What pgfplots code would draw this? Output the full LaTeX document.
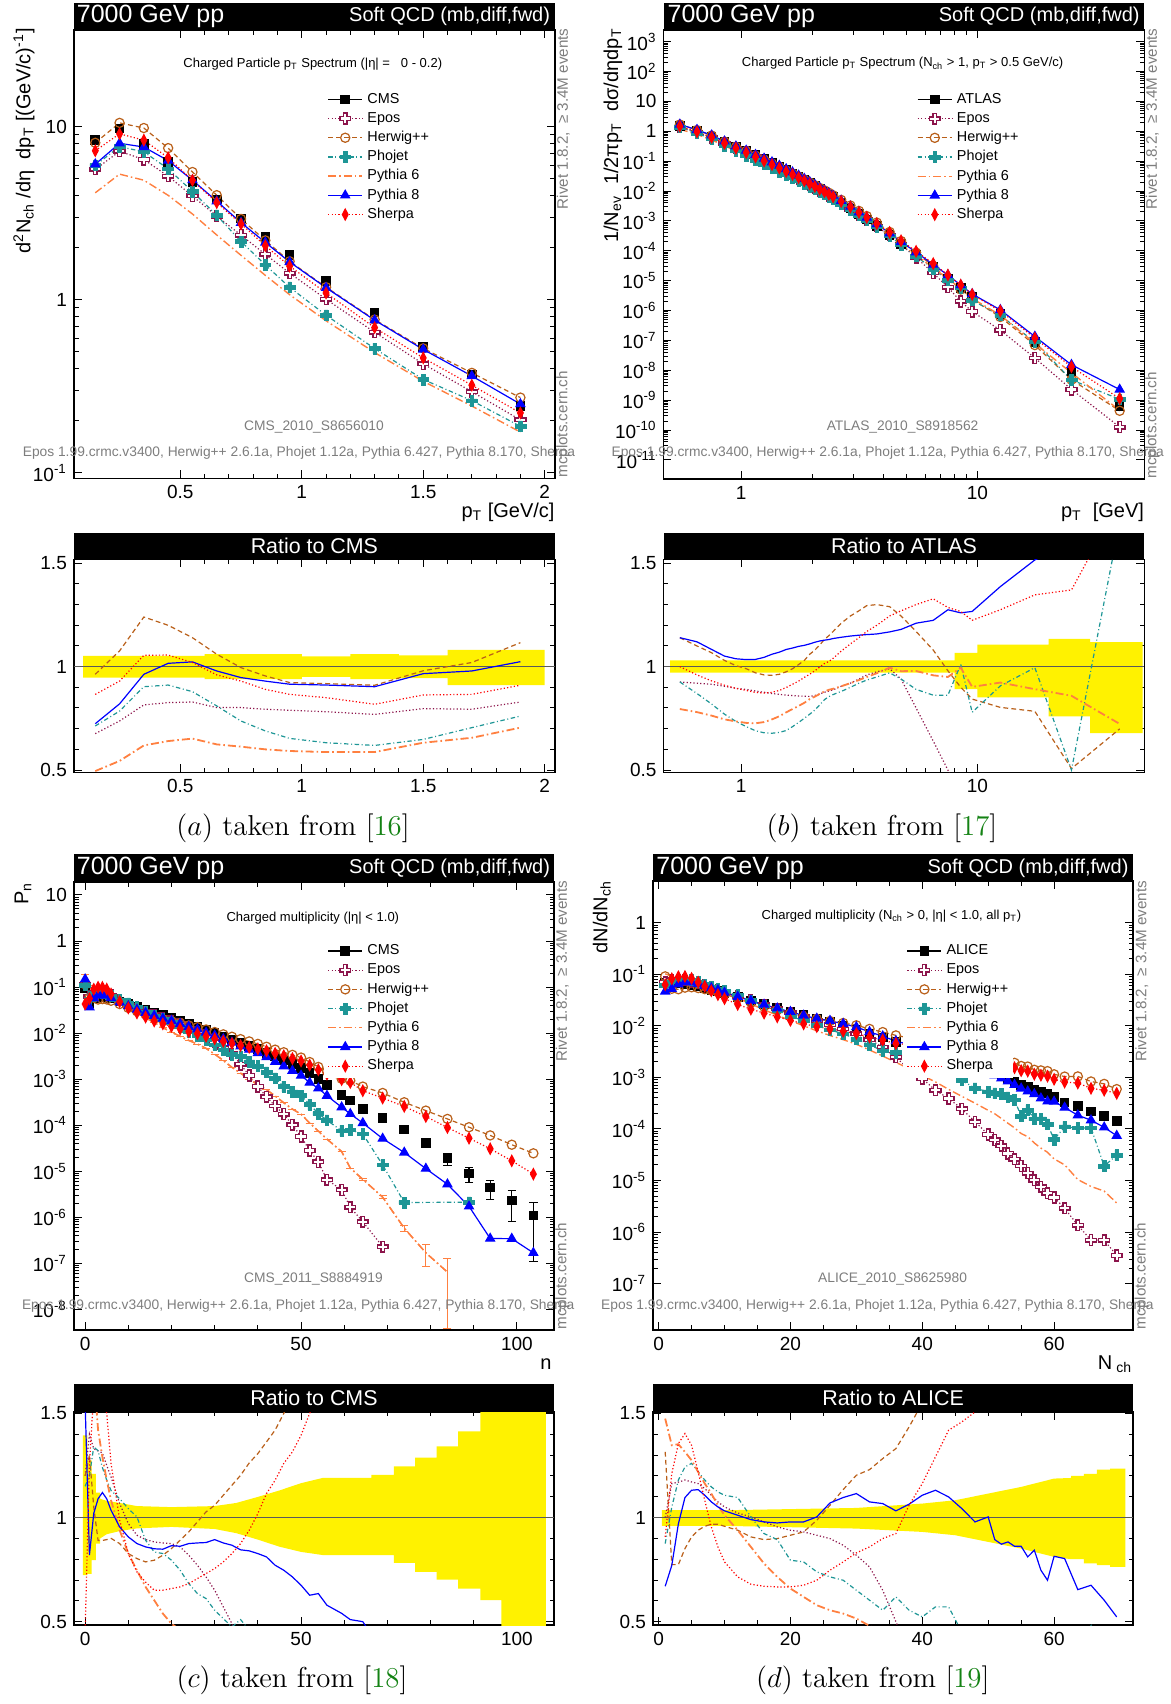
\documentclass[border=0pt]{standalone}
\usepackage{fontspec}
\usepackage{pgfplots}
\usepackage{pgfplotstable}
\pgfplotsset{compat=1.18}
\newfontfamily\arial{Liberation Sans}

\definecolor{cepo}{RGB}{140,20,75}
\definecolor{chw}{RGB}{185,95,25}
\definecolor{cpho}{RGB}{30,150,150}
\definecolor{cpy6}{RGB}{255,128,64}
\definecolor{cpy8}{RGB}{0,0,255}
\definecolor{cshp}{RGB}{255,0,0}
\definecolor{gtxt}{RGB}{125,125,125}
\definecolor{cref}{RGB}{90,90,90}
\definecolor{refgreen}{RGB}{20,130,20}

\newcommand\fhead{\arial\fontsize{12.5}{14}\selectfont}
\newcommand\fheadr{\arial\fontsize{10}{12}\selectfont}
\newcommand\fratio{\arial\fontsize{10.7}{12}\selectfont}
\newcommand\ftick{\arial\fontsize{9.5}{11}\selectfont}
\newcommand\flab{\arial\fontsize{10}{12}\selectfont}
\newcommand\fleg{\arial\fontsize{7.2}{8.5}\selectfont}
\newcommand\fsub{\arial\fontsize{6.5}{8}\selectfont}
\newcommand\fgray{\arial\fontsize{6.9}{8}\selectfont}
\newcommand\fgrayl{\arial\fontsize{6.9}{8}\selectfont}
\newcommand\friv{\arial\fontsize{7.6}{9}\selectfont}
\newcommand\fcap{\fontsize{14.4}{17}\selectfont}

% hollow / filled thick cross used by Epos and Phojet
\pgfdeclareplotmark{pcross}{%
  \pgfpathmoveto{\pgfqpoint{-0.33\pgfplotmarksize}{\pgfplotmarksize}}%
  \pgfpathlineto{\pgfqpoint{0.33\pgfplotmarksize}{\pgfplotmarksize}}%
  \pgfpathlineto{\pgfqpoint{0.33\pgfplotmarksize}{0.33\pgfplotmarksize}}%
  \pgfpathlineto{\pgfqpoint{\pgfplotmarksize}{0.33\pgfplotmarksize}}%
  \pgfpathlineto{\pgfqpoint{\pgfplotmarksize}{-0.33\pgfplotmarksize}}%
  \pgfpathlineto{\pgfqpoint{0.33\pgfplotmarksize}{-0.33\pgfplotmarksize}}%
  \pgfpathlineto{\pgfqpoint{0.33\pgfplotmarksize}{-\pgfplotmarksize}}%
  \pgfpathlineto{\pgfqpoint{-0.33\pgfplotmarksize}{-\pgfplotmarksize}}%
  \pgfpathlineto{\pgfqpoint{-0.33\pgfplotmarksize}{-0.33\pgfplotmarksize}}%
  \pgfpathlineto{\pgfqpoint{-\pgfplotmarksize}{-0.33\pgfplotmarksize}}%
  \pgfpathlineto{\pgfqpoint{-\pgfplotmarksize}{0.33\pgfplotmarksize}}%
  \pgfpathlineto{\pgfqpoint{-0.33\pgfplotmarksize}{0.33\pgfplotmarksize}}%
  \pgfpathclose
  \pgfusepathqfillstroke
}

\pgfplotsset{
  rootax/.style={
    scale only axis, anchor=north west,
    axis line style={line width=0.8pt},
    tick style={black, line width=0.5pt},
    major tick length=4pt, minor tick length=2.3pt,
    tick align=inside, tick pos=both,
    xticklabel pos=lower, yticklabel pos=left,
    ticklabel style={font=\ftick},
    /pgf/number format/assume math mode=true,
  },
  legax/.style={
    legend cell align=left,
    legend style={draw=none, fill=white, font=\fleg, anchor=north west,
      inner xsep=2pt, inner ysep=2pt, row sep=1.6pt, column sep=1.6pt,
      nodes={inner sep=0.6pt, text height=5.3pt, text depth=1.5pt}},
  },
  ratax/.style={rootax, ytick={0.5,1,1.5}, minor y tick num=4},
  sdat/.style={black, solid, line width=0.6pt, mark=square*, mark size=2.1pt},
  sepo/.style={cepo, line width=0.6pt, dash pattern=on 0.6pt off 1.1pt, mark=pcross, mark size=2.7pt, mark options={solid, fill=white, line width=0.7pt}},
  shw/.style={chw, line width=0.6pt, dash pattern=on 2.4pt off 1.6pt, mark=o, mark size=2.3pt, mark options={solid, line width=0.6pt}},
  spho/.style={cpho, line width=0.6pt, dash pattern=on 2.2pt off 1.3pt on 0.5pt off 1.3pt, mark=pcross, mark size=2.7pt, mark options={solid, fill=cpho, line width=0.3pt}},
  spy6/.style={cpy6, line width=0.7pt, dash pattern=on 4pt off 1.5pt on 0.8pt off 1.5pt, mark=none},
  spy8/.style={cpy8, line width=0.6pt, solid, mark=triangle*, mark size=2.5pt},
  sshp/.style={cshp, line width=0.6pt, dash pattern=on 0.6pt off 1.1pt, mark=diamond*, mark size=2.7pt, mark options={solid, xscale=0.7}},
}

% (a) CMS pT spectrum: data and model/data ratios
\pgfplotstableread{
x dat epo hw pho py6 py8 shp
0.15 8.4 0.676 0.963 0.713 0.495 0.724 0.866
0.25 9.8 0.737 1.076 0.785 0.544 0.82 0.93
0.35 7.94 0.815 1.24 0.903 0.619 0.963 1.055
0.45 6.28 0.826 1.2 0.911 0.64 1.016 1.056
0.55 4.81 0.829 1.14 0.879 0.652 1.023 1.02
0.65 3.8 0.802 1.06 0.81 0.624 0.979 0.96
0.75 2.95 0.802 0.995 0.737 0.613 0.947 0.93
0.85 2.31 0.794 0.955 0.689 0.6 0.93 0.89
0.95 1.81 0.789 0.923 0.653 0.592 0.915 0.866
1.1 1.29 0.782 0.918 0.632 0.587 0.911 0.85
1.3 0.845 0.769 0.91 0.619 0.587 0.903 0.818
1.5 0.535 0.797 0.98 0.648 0.632 0.966 0.863
1.7 0.371 0.794 1.02 0.705 0.656 0.979 0.866
1.9 0.244 0.829 1.116 0.761 0.705 1.024 0.91
}\tabA

% (b) ATLAS pT spectrum
\pgfplotstableread{
x dat epo hw pho py6 py8 shp
0.55 1.479 0.926 1.14 0.926 0.795 1.14 1.0
0.65 1.0 0.92 1.10 0.87 0.78 1.12 0.96
0.75 0.676 0.915 1.067 0.819 0.763 1.083 0.931
0.85 0.437 0.905 1.03 0.77 0.745 1.051 0.91
0.95 0.302 0.895 1.005 0.735 0.735 1.038 0.895
1.05 0.219 0.89 0.99 0.71 0.728 1.034 0.885
1.15 0.158 0.882 0.97 0.69 0.726 1.035 0.875
1.25 0.117 0.876 0.96 0.68 0.732 1.045 0.872
1.35 0.0871 0.87 0.958 0.678 0.745 1.06 0.876
1.45 0.0661 0.866 0.963 0.682 0.76 1.07 0.885
1.55 0.0501 0.862 0.975 0.691 0.779 1.083 0.899
1.65 0.0389 0.86 0.99 0.71 0.795 1.09 0.915
1.75 0.0302 0.858 1.01 0.73 0.81 1.098 0.93
1.85 0.0234 0.857 1.03 0.75 0.825 1.103 0.948
1.95 0.0182 0.856 1.06 0.77 0.843 1.11 0.963
2.05 0.0145 0.86 1.08 0.79 0.855 1.118 0.98
2.15 0.0115 0.868 1.105 0.815 0.868 1.124 0.998
2.25 0.00933 0.876 1.131 0.84 0.88 1.128 1.015
2.35 0.00759 0.882 1.15 0.855 0.888 1.131 1.025
2.45 0.00617 0.888 1.17 0.865 0.893 1.136 1.04
2.65 0.00417 0.905 1.21 0.88 0.905 1.142 1.075
2.9 0.00263 0.92 1.245 0.9 0.92 1.148 1.11
3.15 0.0017 0.94 1.27 0.92 0.935 1.152 1.14
3.4 0.00112 0.96 1.295 0.935 0.95 1.155 1.17
3.75 6.76e-4 0.975 1.30 0.95 0.968 1.158 1.20
4.25 3.31e-4 0.99 1.29 0.97 0.995 1.168 1.245
4.75 1.70e-4 0.94 1.245 0.94 0.978 1.18 1.27
5.5 7.41e-5 0.80 1.17 0.89 0.979 1.21 1.30
6.5 2.82e-5 0.64 1.08 0.862 0.958 1.224 1.328
7.5 1.20e-5 0.5 0.98 0.862 0.95 1.275 1.286
8.5 5.62e-6 0.36 0.9 1.011 0.995 1.26 1.267
9.5 2.82e-6 0.33 0.843 0.779 0.902 1.267 1.224
12.5 7.59e-7 0.29 0.803 0.907 0.923 1.387 1.275
17.5 8.91e-8 0.29 0.784 0.995 0.891 1.516 1.347
25 9.55e-9 0.24 0.507 0.5 0.859 1.6 1.371
40 6.31e-10 0.2 0.699 1.7 0.723 3.6 1.8
}\tabB

% (c) CMS multiplicity |eta|<1
\pgfplotstableread{
x dat err epo hw pho py6 e6 py8 shp
0 0.0955 0 1.2 1.2 1.15 2.0 0 1.55 0.45
1 0.0447 0 1.4 1.3 1.2 2.4 0 0.82 1.26
2 0.0562 0 1.33 1.05 1.34 1.7 0 1.02 1.6
3 0.0603 0 1.32 0.89 1.32 1.42 0 1.09 1.65
4 0.0617 0 1.31 0.89 1.24 1.29 0 1.12 1.6
5 0.0603 0 1.25 0.894 1.18 1.18 0 1.09 1.5
6 0.0562 0 1.195 0.9 1.13 1.083 0 1.035 1.26
8 0.049 0 1.067 0.875 1.09 0.939 0 0.955 0.987
10 0.0427 0 0.971 0.827 1.043 0.827 0 0.907 0.827
12 0.0372 0 0.915 0.803 1.003 0.747 0 0.875 0.739
14 0.0324 0 0.894 0.787 0.891 0.667 0 0.859 0.69
16 0.0282 0 0.883 0.795 0.835 0.603 0 0.85 0.651
18 0.0245 0 0.878 0.819 0.827 0.539 0 0.848 0.651
20 0.0214 0 0.875 0.851 0.795 0.49 0 0.865 0.659
22 0.0186 0 0.859 0.891 0.747 0.46 0 0.862 0.667
24 0.0158 0 0.819 0.931 0.683 0.44 0 0.875 0.683
26 0.0138 0 0.771 0.979 0.635 0.42 0 0.878 0.707
28 0.0117 0 0.715 1.027 0.611 0.40 0 0.88 0.731
30 0.0100 0 0.651 1.059 0.555 0.35 0 0.894 0.755
32 0.00851 0 0.571 1.107 0.515 0.30 0 0.878 0.787
34 0.00724 0 0.49 1.155 0.475 0.25 0 0.867 0.827
36 0.00617 0 0.34 1.203 0.51 0.22 0 0.845 0.875
38 0.00525 0 0.23 1.262 0.46 0.19 0 0.84 0.939
40 0.00447 0 0.155 1.307 0.43 0.17 0 0.827 1.019
42 0.00372 0 0.112 1.363 0.38 0.16 0 0.811 1.115
44 0.00309 0 0.085 1.42 0.34 0.14 0 0.771 1.179
46 0.00257 0 0.068 1.5 0.27 0.12 0 0.747 1.26
48 0.00214 0 0.048 1.58 0.25 0.105 0 0.715 1.315
50 0.00178 0 0.032 1.66 0.25 0.098 0 0.675 1.395
52 0.00135 0 0.021 1.75 0.21 0.083 0 0.627 1.5
54 0.00100 0 0.016 1.85 0.18 0.075 0 0.635 1.6
56 0.000759 0 0.0087 1.95 0.17 0.066 0 0.579 1.7
59.4 4.57e-4 0.05 0.0087 2.24 0.166 0.059 0 0.54 2.14
61.4 3.47e-4 0.06 0.0048 2.69 0.23 0.034 0 0.51 2.45
64.3 2.24e-4 0.08 0.0036 3.09 0.29 0.03 0.05 0.50 2.51
68.9 1.45e-4 0.10 0.0016 3.47 0.095 0.019 0.08 0.355 2.69
73.9 8.13e-5 0.13 nan 3.89 0.026 0.0072 0.15 0.316 3.16
78.9 4.17e-5 0.18 nan 5.0 nan 0.0041 0.5 0.275 3.72
83.9 1.91e-5 0.28 nan 7.2 nan 0.0034 0.94 0.275 4.68
88.9 8.91e-6 0.35 nan 10.2 0.24 nan 0 0.195 5.89
93.8 4.47e-6 0.45 nan 13.5 nan nan 0 0.078 6.92
98.8 2.34e-6 0.65 nan 16.2 nan nan 0 0.148 7.24
103.8 1.10e-6 0.9 nan 22.4 nan nan 0 0.155 7.94
}\tabC

% (d) ALICE multiplicity Nch>0
\pgfplotstableread{
x dat epo hw pho py6 py8 shp
1 0.0692 1.0 1.315 0.875 1.475 0.67 0.907
2 0.0676 1.163 0.774 1.05 1.347 0.77 1.211
3 0.0661 1.17 0.774 1.18 1.352 0.97 1.355
4 0.0646 1.18 0.851 1.243 1.315 1.096 1.403
5 0.0617 1.171 0.907 1.26 1.275 1.131 1.347
6 0.0575 1.163 0.939 1.22 1.219 1.134 1.219
7 0.0537 1.139 0.958 1.18 1.163 1.107 1.083
8 0.0501 1.107 0.968 1.147 1.115 1.075 0.955
9 0.0468 1.075 0.968 1.123 1.059 1.051 0.859
10 0.0427 1.051 0.958 1.107 1.011 1.032 0.787
12 0.0363 1.022 0.939 1.096 0.939 1.011 0.715
14 0.0309 1.003 0.907 1.003 0.859 0.99 0.68
16 0.0263 0.979 0.894 0.923 0.779 0.979 0.67
18 0.0224 0.955 0.899 0.894 0.715 0.974 0.667
20 0.0191 0.939 0.915 0.795 0.659 0.979 0.667
22 0.0162 0.931 0.931 0.787 0.619 0.979 0.675
24 0.0138 0.915 0.987 0.739 0.579 1.003 0.699
26 0.0117 0.899 1.059 0.715 0.555 1.07 0.747
28 0.0100 0.867 1.134 0.699 0.539 1.096 0.787
30 0.00851 0.819 1.203 0.651 0.515 1.115 0.83
32 0.00708 0.763 1.23 0.603 0.48 1.075 0.859
34 0.00589 0.651 1.283 0.555 0.44 1.067 0.899
36 0.00490 0.5 1.331 0.619 0.40 1.032 0.923
38 0.00407 0.35 1.435 0.555 0.36 1.064 1.059
40 0.00339 0.28 1.55 0.523 0.32 1.107 1.163
42 0.00282 0.2 1.65 0.571 0.29 1.131 1.291
44 0.00234 0.166 1.75 0.571 0.25 1.099 1.419
46 0.00195 0.126 1.85 0.45 0.22 1.043 1.459
48 0.00162 0.085 1.95 0.38 0.195 0.979 1.507
50 0.00135 0.058 2.05 0.39 0.17 1.003 1.6
51 0.00123 0.05 2.1 0.40 0.16 0.894 1.65
52 0.00110 0.043 2.15 0.43 0.145 0.872 1.75
53 0.000955 0.035 2.2 0.43 0.135 0.883 1.8
54 0.000832 0.031 2.3 0.44 0.126 0.862 1.85
55 0.000708 0.027 2.35 0.25 0.115 0.862 1.9
56 0.000661 0.021 2.45 0.35 0.107 0.811 2.0
57 0.000562 0.018 2.5 0.28 0.095 0.843 2.05
58 0.000525 0.0145 2.6 0.30 0.081 0.747 2.1
59 0.000490 0.0115 2.7 0.25 0.072 0.699 2.15
60 0.000417 0.0112 2.75 0.15 0.063 0.814 2.2
61.6 0.000324 0.0089 3.2 0.34 0.062 0.803 2.5
63.6 0.000282 0.0048 3.7 0.37 0.037 0.654 2.75
65.6 0.000219 0.0032 3.8 0.48 0.035 0.675 2.8
67.6 0.000178 0.0039 4.2 0.107 0.035 0.603 3.16
69.5 0.000141 0.0025 4.2 0.22 0.026 0.523 3.47
}\tabD

\newcommand\legset[1]{%
  \addlegendimage{sdat}\addlegendentry{#1}
  \addlegendimage{sepo}\addlegendentry{Epos}
  \addlegendimage{shw}\addlegendentry{Herwig++}
  \addlegendimage{spho}\addlegendentry{Phojet}
  \addlegendimage{spy6}\addlegendentry{Pythia 6}
  \addlegendimage{spy8}\addlegendentry{Pythia 8}
  \addlegendimage{sshp}\addlegendentry{Sherpa}}

\newcommand\mainmodels[1]{%
  \addplot[sepo, forget plot] table[x=x, y expr=\thisrow{dat}*\thisrow{epo}] {#1};
  \addplot[shw, forget plot] table[x=x, y expr=\thisrow{dat}*\thisrow{hw}] {#1};
  \addplot[spho, forget plot] table[x=x, y expr=\thisrow{dat}*\thisrow{pho}] {#1};
  \addplot[spy6, forget plot] table[x=x, y expr=\thisrow{dat}*\thisrow{py6}] {#1};
  \addplot[spy8, forget plot] table[x=x, y expr=\thisrow{dat}*\thisrow{py8}] {#1};
  \addplot[sshp, forget plot] table[x=x, y expr=\thisrow{dat}*\thisrow{shp}] {#1};}

\newcommand\ratiomodels[1]{%
  \addplot[sepo, no marks] table[x=x, y=epo] {#1};
  \addplot[shw, no marks] table[x=x, y=hw] {#1};
  \addplot[spho, no marks] table[x=x, y=pho] {#1};
  \addplot[spy6, no marks, line width=0.9pt] table[x=x, y=py6] {#1};
  \addplot[spy8, no marks] table[x=x, y=py8] {#1};
  \addplot[sshp, no marks] table[x=x, y=shp] {#1};}

\newcommand\graytxt{Epos 1.99.crmc.v3400, Herwig++ 2.6.1a, Phojet 1.12a, Pythia 6.427, Pythia 8.170, Sherpa}
\newcommand\rivet{Rivet 1.8.2, \ ≥ 3.4M events}

\begin{document}
\begin{tikzpicture}
\path[use as bounding box] (0pt,0pt) rectangle (585.5pt,-852pt);

% ---------------- (a) main
\begin{axis}[rootax, legax, ymode=log, at={(36.95pt,-15pt)}, width=240.5pt, height=224.15pt,
  xmin=0.062, xmax=2.042, ymin=0.093, ymax=36.3,
  xtick={0.5,1,1.5,2}, minor x tick num=4,
  ytick={0.1,1,10}, yticklabels={10\textsuperscript{-1},1,10},
  legend style={at={(axis description cs:0.518,0.873)}}]
\legset{CMS}
\addplot[sdat, only marks, forget plot] table[x=x, y=dat] {\tabA};
\mainmodels{\tabA}
\end{axis}

% ---------------- (a) ratio
\begin{axis}[ratax, at={(36.95pt,-279.65pt)}, width=240.5pt, height=106.5pt,
  xmin=0.062, xmax=2.042, ymin=0.489, ymax=1.519,
  xtick={0.5,1,1.5,2}, minor x tick num=4]
\addplot[fill=yellow, draw=none] coordinates {(0.1,1.052)(0.6,1.052)(0.6,1.06)(1.0,1.06)(1.0,1.05)(1.2,1.05)(1.2,1.06)(1.4,1.06)(1.4,1.055)(1.6,1.055)(1.6,1.081)(2.0,1.081)(2.0,0.911)(1.6,0.911)(1.6,0.945)(1.4,0.945)(1.4,0.94)(1.2,0.94)(1.2,0.95)(1.0,0.95)(1.0,0.94)(0.6,0.94)(0.6,0.947)(0.1,0.947)} -- cycle;
\addplot[cref, line width=0.7pt] coordinates {(0.062,1) (2.042,1)};
\ratiomodels{\tabA}
\end{axis}

% ---------------- (b) main
\begin{axis}[rootax, legax, xmode=log, ymode=log, at={(331.75pt,-15pt)}, width=240.45pt, height=224.5pt,
  xmin=0.469, xmax=50.9, ymin=2.3e-12, ymax=2450,
  xtick={1,10}, xticklabels={1,10},
  ytick={1e-11,1e-10,1e-9,1e-8,1e-7,1e-6,1e-5,1e-4,1e-3,1e-2,1e-1,1,10,100,1000},
  yticklabels={10\textsuperscript{-11},10\textsuperscript{-10},10\textsuperscript{-9},10\textsuperscript{-8},10\textsuperscript{-7},10\textsuperscript{-6},10\textsuperscript{-5},10\textsuperscript{-4},10\textsuperscript{-3},10\textsuperscript{-2},10\textsuperscript{-1},1,10,10\textsuperscript{2},10\textsuperscript{3}},
  legend style={at={(axis description cs:0.518,0.873)}}]
\legset{ATLAS}
\addplot[sdat, only marks, forget plot] table[x=x, y=dat] {\tabB};
\mainmodels{\tabB}
\end{axis}

% ---------------- (b) ratio
\begin{axis}[ratax, xmode=log, at={(331.75pt,-279.65pt)}, width=240.45pt, height=106.5pt,
  xmin=0.469, xmax=50.9, ymin=0.489, ymax=1.519,
  xtick={1,10}, xticklabels={1,10}]
\addplot[fill=yellow, draw=none] coordinates {(0.5,1.03)(8,1.03)(8,1.067)(10,1.067)(10,1.107)(20,1.107)(20,1.134)(30,1.134)(30,1.118)(50,1.118)(50,0.678)(30,0.678)(30,0.76)(20,0.76)(20,0.851)(10,0.851)(10,0.891)(8,0.891)(8,0.971)(0.5,0.971)} -- cycle;
\addplot[cref, line width=0.7pt] coordinates {(0.469,1) (50.9,1)};
\ratiomodels{\tabB}
\end{axis}

% ---------------- (c) main
\begin{axis}[rootax, legax, ymode=log, at={(36.95pt,-441.05pt)}, width=240.1pt, height=223.95pt,
  xmin=-2.6, xmax=108.6, ymin=3.6e-9, ymax=19,
  xtick={0,50,100}, minor x tick num=4,
  ytick={1e-8,1e-7,1e-6,1e-5,1e-4,1e-3,1e-2,1e-1,1,10},
  yticklabels={10\textsuperscript{-8},10\textsuperscript{-7},10\textsuperscript{-6},10\textsuperscript{-5},10\textsuperscript{-4},10\textsuperscript{-3},10\textsuperscript{-2},10\textsuperscript{-1},1,10},
  legend style={at={(axis description cs:0.519,0.874)}}]
\legset{CMS}
\addplot[sdat, only marks, forget plot, error bars/.cd, y dir=both, y explicit relative,
  error bar style={black, line width=0.6pt}] table[x=x, y=dat, y error=err] {\tabC};
\mainmodels{\tabC}
\addplot[spy6, forget plot, error bars/.cd, y dir=both, y explicit relative,
  error bar style={cpy6, solid, line width=0.6pt}] table[x=x, y expr=\thisrow{dat}*\thisrow{py6}, y error=e6] {\tabC};
\end{axis}

% ---------------- (c) ratio
\begin{axis}[ratax, at={(36.95pt,-705.85pt)}, width=240.1pt, height=106.65pt,
  xmin=-2.6, xmax=108.6, ymin=0.484, ymax=1.508,
  xtick={0,50,100}, minor x tick num=4]
\addplot[fill=yellow, draw=none] coordinates {(-0.5,1.395)(0.5,1.395)(0.5,1.275)(1.5,1.275)(1.5,1.21)(2.5,1.21)(2.5,1.12)(3.5,1.12)(3.5,1.09)(5,1.08)(8,1.07)(12,1.055)(20,1.05)(30,1.055)(35,1.07)(40,1.099)(45,1.13)(50,1.165)(55,1.19)(66.3,1.19)(66.3,1.205)(71.5,1.205)(71.5,1.246)(76.4,1.246)(76.4,1.288)(81.4,1.288)(81.4,1.342)(86.4,1.342)(86.4,1.414)(91.5,1.414)(91.5,1.6)(106.7,1.6)(106.7,0.3)(96.4,0.3)(96.4,0.603)(91.5,0.603)(91.5,0.659)(86.4,0.659)(86.4,0.702)(81.4,0.702)(81.4,0.739)(76.4,0.739)(76.4,0.782)(71.5,0.782)(71.5,0.82)(55,0.82)(50,0.835)(45,0.86)(40,0.894)(35,0.925)(30,0.945)(20,0.955)(12,0.948)(8,0.935)(5,0.92)(3.5,0.9)(3.5,0.875)(2.5,0.875)(2.5,0.795)(1.5,0.795)(1.5,0.73)(0.5,0.73)(0.5,0.723)(-0.5,0.723)} -- cycle;
\addplot[cref, line width=0.7pt] coordinates {(-2.6,1) (108.6,1)};
\ratiomodels{\tabC}
\end{axis}

% ---------------- (d) main
\begin{axis}[rootax, legax, ymode=log, at={(326.5pt,-440.55pt)}, width=240.1pt, height=224.45pt,
  xmin=-0.85, xmax=72, ymin=1.26e-8, ymax=6.4,
  xtick={0,20,40,60}, minor x tick num=3,
  ytick={1e-7,1e-6,1e-5,1e-4,1e-3,1e-2,1e-1,1},
  yticklabels={10\textsuperscript{-7},10\textsuperscript{-6},10\textsuperscript{-5},10\textsuperscript{-4},10\textsuperscript{-3},10\textsuperscript{-2},10\textsuperscript{-1},1},
  legend style={at={(axis description cs:0.519,0.872)}}]
\legset{ALICE}
\addplot[sdat, only marks, forget plot] table[x=x, y=dat] {\tabD};
\mainmodels{\tabD}
\end{axis}

% ---------------- (d) ratio
\begin{axis}[ratax, at={(326.5pt,-705.85pt)}, width=240.1pt, height=106.65pt,
  xmin=-0.85, xmax=72, ymin=0.484, ymax=1.508,
  xtick={0,20,40,60}, minor x tick num=3]
\addplot[fill=yellow, draw=none] coordinates {(0.5,1.035)(10,1.035)(30,1.046)(40,1.067)(45,1.083)(50,1.115)(55,1.147)(60,1.187)(62.6,1.19)(62.6,1.2)(64.5,1.2)(64.5,1.21)(66.5,1.21)(66.5,1.23)(68.5,1.23)(68.5,1.235)(70.8,1.235)(70.8,0.763)(68.5,0.763)(68.5,0.771)(66.5,0.771)(66.5,0.78)(64.5,0.78)(64.5,0.8)(62.6,0.8)(60,0.811)(55,0.851)(50,0.883)(45,0.915)(40,0.931)(30,0.947)(10,0.96)(0.5,0.96)} -- cycle;
\addplot[cref, line width=0.7pt] coordinates {(-0.85,1) (72,1)};
\ratiomodels{\tabD}
\end{axis}

% ---------------- header bars
\foreach \xa/\xb/\ya/\yb in {36.95/277.45/-1.35/-15, 331.75/572.2/-1.35/-15,
    36.95/277.45/-266.35/-279.65, 331.75/572.2/-266.35/-279.65,
    36.95/277.05/-427/-441.05, 326.5/566.6/-427/-440.55,
    36.95/277.05/-692/-705.85, 326.5/566.6/-692/-705.85}
  \fill[black] (\xa pt,\ya pt) rectangle (\xb pt,\yb pt);

\node[white, anchor=west, font=\fhead, inner sep=0pt] at (38.25pt,-8.2pt) {7000 GeV pp};
\node[white, anchor=east, font=\fheadr, inner sep=0pt] at (275.2pt,-8.2pt) {Soft QCD (mb,diff,fwd)};
\node[white, anchor=west, font=\fhead, inner sep=0pt] at (333.6pt,-8.2pt) {7000 GeV pp};
\node[white, anchor=east, font=\fheadr, inner sep=0pt] at (570pt,-8.2pt) {Soft QCD (mb,diff,fwd)};
\node[white, anchor=west, font=\fhead, inner sep=0pt] at (38.25pt,-434pt) {7000 GeV pp};
\node[white, anchor=east, font=\fheadr, inner sep=0pt] at (275.2pt,-434pt) {Soft QCD (mb,diff,fwd)};
\node[white, anchor=west, font=\fhead, inner sep=0pt] at (328pt,-434pt) {7000 GeV pp};
\node[white, anchor=east, font=\fheadr, inner sep=0pt] at (564.4pt,-434pt) {Soft QCD (mb,diff,fwd)};

\node[white, font=\fratio, inner sep=0pt] at (157.2pt,-273pt) {Ratio to CMS};
\node[white, font=\fratio, inner sep=0pt] at (452pt,-273pt) {Ratio to ATLAS};
\node[white, font=\fratio, inner sep=0pt] at (157pt,-698.9pt) {Ratio to CMS};
\node[white, font=\fratio, inner sep=0pt] at (446.55pt,-698.9pt) {Ratio to ALICE};

% ---------------- subtitles
\node[font=\fsub, inner sep=0pt] at (156.4pt,-32pt) {Charged Particle p\textsubscript{T} Spectrum (|η| = \ \ 0 - 0.2)};
\node[font=\fsub, inner sep=0pt] at (451.3pt,-31.7pt) {Charged Particle p\textsubscript{T} Spectrum (N\textsubscript{ch} > 1, p\textsubscript{T} > 0.5 GeV/c)};
\node[font=\fsub, inner sep=0pt] at (156.4pt,-459.3pt) {Charged multiplicity (|η| < 1.0)};
\node[font=\fsub, inner sep=0pt] at (445.7pt,-458pt) {Charged multiplicity (N\textsubscript{ch} > 0, |η| < 1.0, all p\textsubscript{T})};

% ---------------- gray annotations
\node[gtxt, font=\fgray, inner sep=0pt] at (157pt,-213.3pt) {CMS\_2010\_S8656010};
\node[gtxt, font=\fgray, inner sep=0pt] at (451.3pt,-213.3pt) {ATLAS\_2010\_S8918562};
\node[gtxt, font=\fgray, inner sep=0pt] at (156.7pt,-639.4pt) {CMS\_2011\_S8884919};
\node[gtxt, font=\fgray, inner sep=0pt] at (446.3pt,-639.4pt) {ALICE\_2010\_S8625980};
\node[gtxt, font=\fgrayl, inner sep=0pt, anchor=west] at (11.2pt,-226.7pt) {\graytxt};
\node[gtxt, font=\fgrayl, inner sep=0pt, anchor=west] at (305.6pt,-226.7pt) {\graytxt};
\node[gtxt, font=\fgrayl, inner sep=0pt, anchor=west] at (10.8pt,-652.9pt) {\graytxt};
\node[gtxt, font=\fgrayl, inner sep=0pt, anchor=west] at (300.4pt,-652.9pt) {\graytxt};

\node[gtxt, font=\friv, inner sep=0pt, rotate=90, anchor=east] at (281.7pt,-14pt) {\rivet};
\node[gtxt, font=\friv, inner sep=0pt, rotate=90, anchor=west] at (281.7pt,-239pt) {mcplots.cern.ch};
\node[gtxt, font=\friv, inner sep=0pt, rotate=90, anchor=east] at (576.2pt,-14pt) {\rivet};
\node[gtxt, font=\friv, inner sep=0pt, rotate=90, anchor=west] at (576.2pt,-239.5pt) {mcplots.cern.ch};
\node[gtxt, font=\friv, inner sep=0pt, rotate=90, anchor=east] at (281.2pt,-440.2pt) {\rivet};
\node[gtxt, font=\friv, inner sep=0pt, rotate=90, anchor=west] at (281.2pt,-664.7pt) {mcplots.cern.ch};
\node[gtxt, font=\friv, inner sep=0pt, rotate=90, anchor=east] at (570.9pt,-440.2pt) {\rivet};
\node[gtxt, font=\friv, inner sep=0pt, rotate=90, anchor=west] at (570.9pt,-664.7pt) {mcplots.cern.ch};

% ---------------- axis titles
\node[font=\flab, inner sep=0pt, anchor=base east] at (277.45pt,-258.5pt) {p\textsubscript{T} [GeV/c]};
\node[font=\flab, inner sep=0pt, anchor=base east] at (572.2pt,-258.5pt) {p\textsubscript{T} \ [GeV]};
\node[font=\flab, inner sep=0pt, anchor=base east] at (276pt,-684.5pt) {n};
\node[font=\flab, inner sep=0pt, anchor=base east] at (566.25pt,-684.5pt) {N\textsubscript{ ch}};
\node[font=\flab, inner sep=0pt, rotate=90, anchor=east] at (12pt,-14pt) {d\textsuperscript{2}N\textsubscript{ch} /dη \ dp\textsubscript{T} [(GeV/c)\textsuperscript{-1}]};
\node[font=\flab, inner sep=0pt, rotate=90, anchor=east] at (306.5pt,-14pt) {1/N\textsubscript{ev} \ 1/2πp\textsubscript{T} \ dσ/dηdp\textsubscript{T}};
\node[font=\flab, inner sep=0pt, rotate=90, anchor=east] at (11.5pt,-441pt) {P\textsubscript{n}};
\node[font=\flab, inner sep=0pt, rotate=90, anchor=east] at (300.9pt,-440.2pt) {dN/dN\textsubscript{ch}};

% ---------------- captions
\node[font=\fcap, inner sep=0pt] at (146.5pt,-414pt) {$(a)$ taken from [{\color{refgreen}16}]};
\node[font=\fcap, inner sep=0pt] at (441pt,-414pt) {$(b)$ taken from [{\color{refgreen}17}]};
\node[font=\fcap, inner sep=0pt] at (146pt,-840pt) {$(c)$ taken from [{\color{refgreen}18}]};
\node[font=\fcap, inner sep=0pt] at (436.4pt,-840pt) {$(d)$ taken from [{\color{refgreen}19}]};
\end{tikzpicture}
\end{document}
